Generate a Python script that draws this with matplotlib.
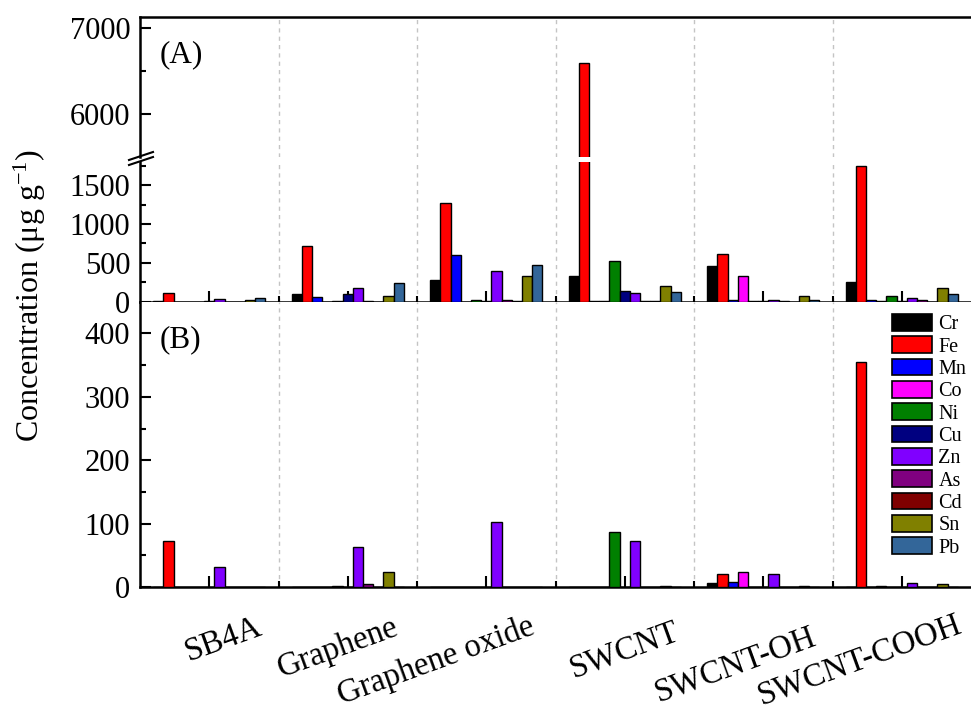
import numpy as np
import matplotlib
matplotlib.use('Agg')
import matplotlib.pyplot as plt
import matplotlib.transforms as mtransforms
from matplotlib.lines import Line2D
from matplotlib.patches import Patch

plt.rcParams['font.family'] = ['Liberation Serif', 'DejaVu Serif']
plt.rcParams['mathtext.fontset'] = 'custom'
plt.rcParams['mathtext.rm'] = 'Liberation Serif'
plt.rcParams['mathtext.default'] = 'regular'

categories = ['SB4A', 'Graphene', 'Graphene oxide', 'SWCNT', 'SWCNT-OH', 'SWCNT-COOH']
metals = ['Cr', 'Fe', 'Mn', 'Co', 'Ni', 'Cu', 'Zn', 'As', 'Cd', 'Sn', 'Pb']
metal_colors = ['#000000', '#FF0000', '#0000FF', '#FF00FF', '#008000', '#000080',
                '#8000FF', '#800080', '#800000', '#808000', '#336699']

# (A) rows = categories, columns = metals (ug/g)
conc_a = np.array([
    [15, 110, 0, 0, 0, 3, 30, 2, 0, 25, 42],
    [98, 717, 55, 0, 15, 98, 171, 3, 2, 77, 244],
    [278, 1273, 602, 0, 20, 5, 401, 20, 10, 329, 470],
    [333, 6590, 10, 10, 526, 141, 107, 3, 5, 201, 128],
    [462, 615, 20, 333, 15, 10, 25, 5, 0, 77, 25],
    [256, 1747, 20, 5, 68, 10, 43, 20, 0, 171, 98],
])

# (B)
conc_b = np.array([
    [0, 72, 0, 0, 0, 0, 32, 0, 0, 0.5, 0],
    [0, 0, 0, 0.5, 1, 0, 63, 4, 0, 23, 0],
    [0, 0, 0, 0, 0, 0, 103, 0, 0, 0.5, 0],
    [0, 0, 0, 0.5, 87, 0, 73, 0, 0, 1, 0],
    [7, 21, 8, 24, 0, 0, 20, 0, 0, 1, 0],
    [0, 355, 0, 1, 0, 0, 6, 0, 0, 4, 0],
])

W, H = 971, 713
fig = plt.figure(figsize=(W / 100, H / 100), dpi=100)


def fig_rect(top_px, bottom_px):
    left = 140 / W
    return [left, 1 - bottom_px / H, 1 - left, (bottom_px - top_px) / H]


ax_top = fig.add_axes(fig_rect(17, 157))
ax_mid = fig.add_axes(fig_rect(162, 301.7))
ax_bot = fig.add_axes(fig_rect(301.7, 587))

x = np.arange(len(categories))
bw = 0.0737
n = len(metals)

for ax, data in ((ax_top, conc_a), (ax_mid, conc_a), (ax_bot, conc_b)):
    for j in range(n):
        ax.bar(x + (j - (n - 1) / 2) * bw, data[:, j], width=bw, color=metal_colors[j],
               edgecolor='black', linewidth=1.0, zorder=3, label=metals[j])
    for b in np.arange(0.5, len(categories) - 1, 1.0):
        ax.axvline(b, color='#c4c4c4', lw=1.0, ls=(0, (3, 3)), zorder=1)
    ax.set_xlim(-0.5, len(categories) - 0.5)
    ax.spines['right'].set_visible(False)
    for s in ax.spines.values():
        s.set_linewidth(1.8)
    ax.tick_params(axis='both', which='both', direction='in', width=1.5, labelsize=22)
    ax.tick_params(axis='y', which='both', pad=7)
    ax.tick_params(axis='both', which='major', length=8)
    ax.tick_params(axis='both', which='minor', length=4)
    ax.set_xticks(x)
    ax.set_xticks(np.arange(0.5, len(categories) - 1, 1.0), minor=True)
    ax.set_xticklabels([])

ax_top.set_ylim(5500, 7124)
ax_top.set_yticks([6000, 7000])
ax_top.set_yticks([6500], minor=True)
ax_top.spines['bottom'].set_visible(False)
ax_top.tick_params(axis='x', which='both', bottom=False)

ax_mid.set_ylim(0, 1800)
ax_mid.set_yticks([0, 500, 1000, 1500])
ax_mid.set_yticks([250, 750, 1250, 1750], minor=True)
ax_mid.spines['top'].set_visible(False)

ax_bot.set_ylim(0, 450)
ax_bot.set_yticks([0, 100, 200, 300, 400])
ax_bot.set_yticks([50, 150, 250, 350], minor=True)
ax_bot.spines['top'].set_visible(False)

for ax in (ax_top, ax_mid, ax_bot):
    ax.set_yticklabels([f'{int(v)}' for v in ax.get_yticks()])

# break marks on the left spine
for y0 in (160, 165):
    fig.add_artist(Line2D([129 / W, 153 / W], [1 - y0 / H, 1 - (y0 - 8) / H],
                          color='black', lw=1.5, transform=fig.transFigure))

# category labels, staggered as in the original
dx_px = [14, -10, -50, 0, -28, -42]
dy_px = [53, 61, 74, 63, 78, 73]
for i, name in enumerate(categories):
    tr = mtransforms.offset_copy(ax_bot.get_xaxis_transform(), fig=fig,
                                 x=dx_px[i], y=-dy_px[i], units='dots')
    ax_bot.text(i, 0, name, transform=tr, rotation=20, rotation_mode='anchor',
                ha='center', va='center', fontsize=23.5)

ax_top.text(160 / W, 1 - 55 / H, '(A)', transform=fig.transFigure, fontsize=22.5,
            ha='left', va='center')
ax_bot.text(160 / W, 1 - 340 / H, '(B)', transform=fig.transFigure, fontsize=22.5,
            ha='left', va='center')

fig.text(30 / W, 1 - 295 / H, 'Concentration (μg g$^{-1}$)', rotation=90,
         ha='center', va='center', fontsize=23)

handles = [Patch(facecolor=c, edgecolor='black', linewidth=1.2) for c in metal_colors]
ax_bot.legend(handles, metals, loc='upper left', bbox_to_anchor=(892 / W, 1 - 314 / H),
              bbox_transform=fig.transFigure, frameon=False, fontsize=14.5,
              handlelength=2.0, handleheight=0.9, labelspacing=0.1,
              handletextpad=0.3, borderpad=0, borderaxespad=0)

fig.savefig('out.png', dpi=100)
